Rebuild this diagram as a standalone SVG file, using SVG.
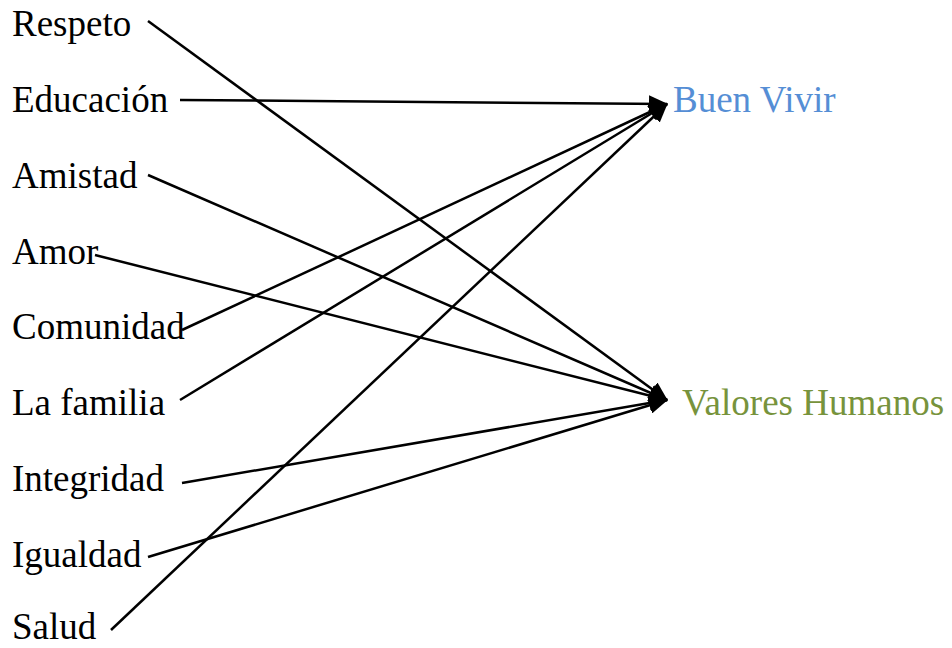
<svg xmlns="http://www.w3.org/2000/svg" width="952" height="648" viewBox="0 0 952 648">
<style>
text{font-family:"Liberation Serif","Times New Roman",serif;font-size:37px;fill:#000}
.bv{fill:#558ED5}
.vh{fill:#77933C}
.c line{stroke:#000;stroke-width:2.5;marker-end:url(#ah)}
</style>
<defs>
<marker id="ah" markerUnits="userSpaceOnUse" viewBox="0 0 19 17" markerWidth="19" markerHeight="17" refX="18" refY="8.5" orient="auto">
<path d="M0,0 L19,8.5 L0,17 z" fill="#000"/>
</marker>
</defs>
<rect width="952" height="648" fill="#fff"/>
<g class="c" id="connectors">
<line x1="148" y1="21" x2="667" y2="400"/>
<line x1="180" y1="100" x2="667" y2="104"/>
<line x1="148" y1="175" x2="667" y2="400"/>
<line x1="95" y1="255" x2="667" y2="400"/>
<line x1="182" y1="330" x2="667" y2="104"/>
<line x1="180" y1="400" x2="667" y2="104"/>
<line x1="182" y1="483" x2="667" y2="400"/>
<line x1="148" y1="557" x2="667" y2="400"/>
<line x1="111" y1="630" x2="667" y2="104"/>
</g>
<g id="respeto"><text x="12" y="36">Respeto</text></g>
<g id="educacion"><text x="12" y="112">Educación</text></g>
<g id="amistad"><text x="12" y="188">Amistad</text></g>
<g id="amor"><text x="12" y="264">Amor</text></g>
<g id="comunidad"><text x="12" y="339">Comunidad</text></g>
<g id="familia"><text x="12" y="415">La familia</text></g>
<g id="integridad"><text x="12" y="491">Integridad</text></g>
<g id="igualdad"><text x="12" y="567">Igualdad</text></g>
<g id="salud"><text x="12" y="639">Salud</text></g>
<g id="buen-vivir"><text class="bv" x="673" y="112">Buen Vivir</text></g>
<g id="valores-humanos"><text class="vh" x="682" y="415">Valores Humanos</text></g>
</svg>
